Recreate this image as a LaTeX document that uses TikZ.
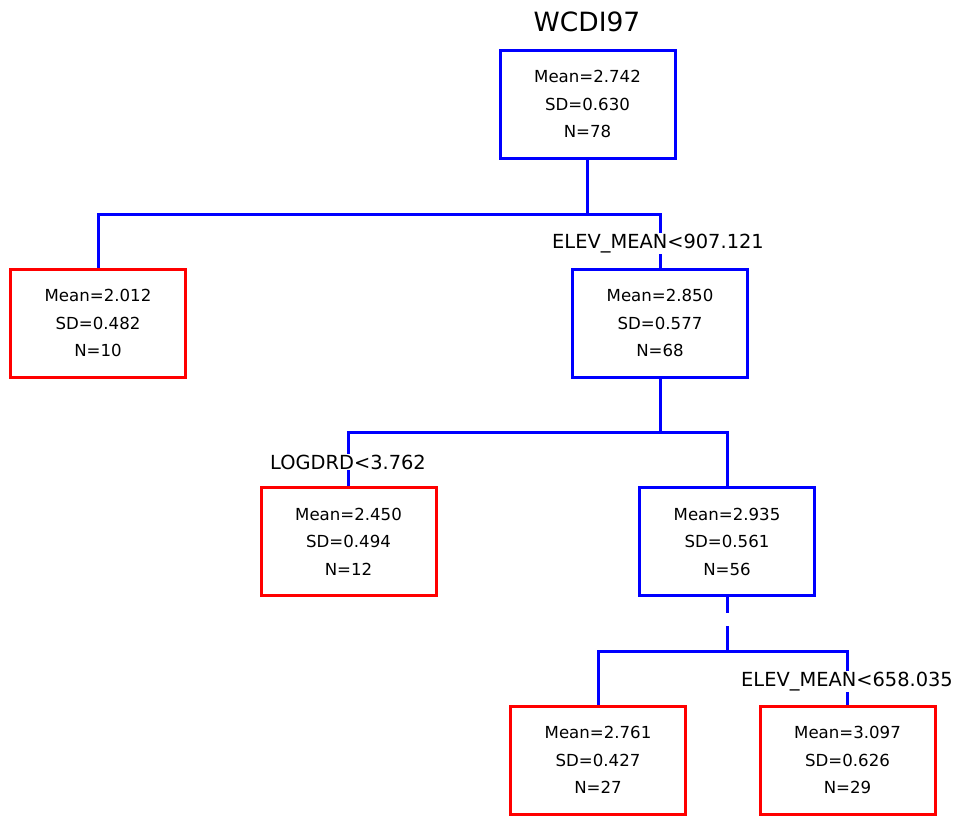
\documentclass[tikz,border=0pt]{standalone}
\usepackage{fontspec}
\setmainfont{DejaVu Sans}
\begin{document}
\begin{tikzpicture}[x=1pt,y=-1pt,
  every node/.style={inner sep=0pt},
  box/.style={draw, line width=3pt, minimum width=175pt, minimum height=108pt, align=center,
    font=\fontsize{16.6}{27.5}\selectfont},
  inner/.style={box, draw=blue},
  leaf/.style={box, draw=red},
  conn/.style={draw=blue, line width=3pt},
  split/.style={fill=white, inner sep=1pt, font=\fontsize{19.4}{22}\selectfont}]
\useasboundingbox (0,0) rectangle (957,815);
\node[font=\fontsize{26.5}{30}\selectfont] (title) at (587,22) {WCDI97};
\node[inner] (root) at (587.5,104) {Mean=2.742\\SD=0.630\\N=78};
\node[leaf] (n10) at (98,323) {Mean=2.012\\SD=0.482\\N=10};
\node[inner] (n68) at (660,323) {Mean=2.850\\SD=0.577\\N=68};
\node[leaf] (n12) at (348.5,541.5) {Mean=2.450\\SD=0.494\\N=12};
\node[inner] (n56) at (727,541.5) {Mean=2.935\\SD=0.561\\N=56};
\node[leaf] (n27) at (598,760) {Mean=2.761\\SD=0.427\\N=27};
\node[leaf] (n29) at (847.5,760) {Mean=3.097\\SD=0.626\\N=29};
\coordinate (s1) at (587.5,214);
\coordinate (s2) at (660,432);
\coordinate (s3) at (727,651);
\draw[conn] (root.south) -- (s1);
\draw[conn] (n10.north) |- (s1) -| (n68.north);
\draw[conn] (n68.south) -- (s2);
\draw[conn] (n12.north) |- (s2) -| (n56.north);
\draw[conn, dash pattern=on 16pt off 13pt on 60pt] (n56.south) -- (s3);
\draw[conn] (n27.north) |- (s3) -| (n29.north);
\node[split] (l1) at (658,243.5) {ELEV\_MEAN<907.121};
\node[split] (l2) at (348,462) {LOGDRD<3.762};
\node[split] (l3) at (847,681.5) {ELEV\_MEAN<658.035};
\end{tikzpicture}
\end{document}
